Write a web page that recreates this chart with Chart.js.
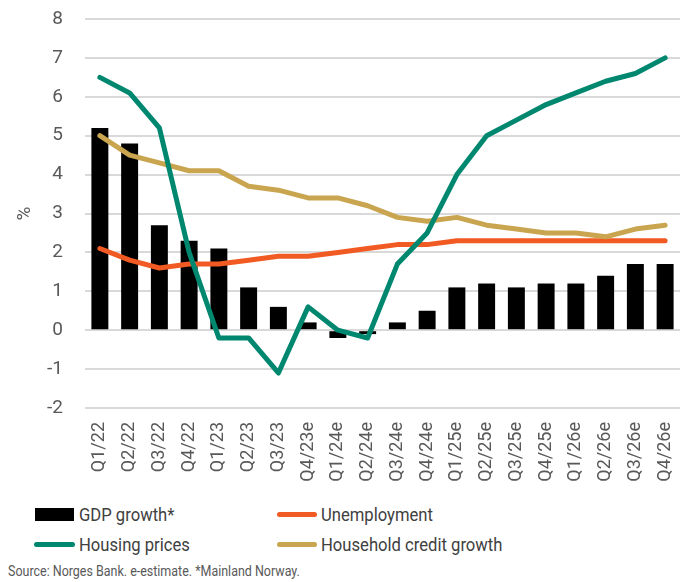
<!doctype html>
<html lang="en">
<head>
    <meta charset="utf-8">
    <style>
        html, body {
            margin: 0;
            padding: 0;
            width: 688px;
            height: 582px;
            background: #fff;
            font-family: "Roboto", sans-serif;
            color: #404040;
        }
        #wrap {
            position: absolute;
            left: 0;
            top: 0;
            width: 688px;
            height: 500px;
        }
        .leg {
            position: absolute;
            font-size: 19px;
            line-height: 20px;
            white-space: nowrap;
            transform: scaleX(0.875);
            transform-origin: left center;
        }
        .sw {
            position: absolute;
        }
        #source {
            position: absolute;
            left: 8px;
            top: 563px;
            font-size: 14.5px;
            color: #595959;
            white-space: nowrap;
            transform: scaleX(0.86);
            transform-origin: left center;
        }
    </style>
    <script src="https://cdn.jsdelivr.net/npm/chart.js@4"></script>
</head>
<body>
    <div id="wrap"><canvas id="myChart" width="688" height="500"></canvas></div>

    <!-- legend, two columns like the original -->
    <div class="sw" style="left:35px;top:508px;width:39px;height:13px;background:#000"></div>
    <div class="leg" style="left:79px;top:505px">GDP growth*</div>
    <div class="sw" style="left:277px;top:512px;width:40px;height:5px;border-radius:3px;background:#F15A22"></div>
    <div class="leg" style="left:321px;top:505px">Unemployment</div>
    <div class="sw" style="left:34px;top:542px;width:41px;height:5px;border-radius:3px;background:#00876F"></div>
    <div class="leg" style="left:79px;top:535px">Housing prices</div>
    <div class="sw" style="left:277px;top:542px;width:40px;height:5px;border-radius:3px;background:#C9A54F"></div>
    <div class="leg" style="left:321px;top:535px">Household credit growth</div>
    <div id="source">Source: Norges Bank. e-estimate. *Mainland Norway.</div>

    <script>
        const quarters = ['Q1/22', 'Q2/22', 'Q3/22', 'Q4/22', 'Q1/23', 'Q2/23', 'Q3/23', 'Q4/23e',
            'Q1/24e', 'Q2/24e', 'Q3/24e', 'Q4/24e', 'Q1/25e', 'Q2/25e', 'Q3/25e', 'Q4/25e',
            'Q1/26e', 'Q2/26e', 'Q3/26e', 'Q4/26e'];
        const gdpGrowth = [5.2, 4.8, 2.7, 2.3, 2.1, 1.1, 0.6, 0.2, -0.2, -0.1, 0.2, 0.5, 1.1, 1.2, 1.1, 1.2, 1.2, 1.4, 1.7, 1.7];
        const unemployment = [2.1, 1.8, 1.6, 1.7, 1.7, 1.8, 1.9, 1.9, 2.0, 2.1, 2.2, 2.2, 2.3, 2.3, 2.3, 2.3, 2.3, 2.3, 2.3, 2.3];
        const housingPrices = [6.5, 6.1, 5.2, 2.0, -0.2, -0.2, -1.1, 0.6, 0.0, -0.2, 1.7, 2.5, 4.0, 5.0, 5.4, 5.8, 6.1, 6.4, 6.6, 7.0];
        const creditGrowth = [5.0, 4.5, 4.3, 4.1, 4.1, 3.7, 3.6, 3.4, 3.4, 3.2, 2.9, 2.8, 2.9, 2.7, 2.6, 2.5, 2.5, 2.4, 2.6, 2.7];
        const yTicks = [-2, -1, 0, 1, 2, 3, 4, 5, 6, 7, 8];

        const fontFam = '"Roboto", sans-serif';

        function lineSet(label, data, color) {
            return {
                type: 'line',
                label: label,
                data: data,
                borderColor: color,
                backgroundColor: color,
                borderWidth: 5,
                pointRadius: 0,
                tension: 0,
                borderCapStyle: 'round',
                borderJoinStyle: 'round',
                order: 1
            };
        }

        var ctx = document.getElementById("myChart");
        var myChart = new Chart(ctx, {
            data: {
                labels: quarters,
                datasets: [
                    lineSet('Housing prices', housingPrices, '#00876F'),
                    lineSet('Household credit growth', creditGrowth, '#C9A54F'),
                    lineSet('Unemployment', unemployment, '#F15A22'),
                    {
                        type: 'bar',
                        label: 'GDP growth*',
                        data: gdpGrowth,
                        backgroundColor: '#000',
                        barPercentage: 0.57,
                        categoryPercentage: 1,
                        order: 2
                    }
                ]
            },
            options: {
                responsive: false,
                animation: false,
                layout: { padding: { left: 0, right: 8, top: 19, bottom: 0 } },
                plugins: {
                    legend: { display: false },
                    tooltip: { enabled: false }
                },
                scales: {
                    x: {
                        grid: { display: false, drawTicks: false },
                        border: { display: false },
                        ticks: {
                            color: '#595959',
                            font: { family: fontFam, size: 18 },
                            minRotation: 90,
                            maxRotation: 90,
                            padding: 14,
                            autoSkip: false
                        },
                        afterFit: (scale) => {
                            scale.paddingLeft = 0;
                            scale.paddingRight = 0;
                            scale.height = 92;
                        }
                    },
                    y: {
                        min: -2,
                        max: 8,
                        afterBuildTicks: (axis) => { axis.ticks = yTicks.map(v => ({ value: v })); },
                        grid: { color: '#D9D9D9', lineWidth: 2, drawTicks: false },
                        border: { display: false },
                        ticks: {
                            color: '#595959',
                            font: { family: fontFam, size: 19 },
                            padding: 22
                        },
                        title: {
                            display: true,
                            text: '%',
                            color: '#595959',
                            font: { family: fontFam, size: 19 },
                            padding: { top: 14, bottom: 0 }
                        },
                        afterFit: (scale) => {
                            scale.paddingTop = 0;
                            scale.paddingBottom = 0;
                            scale.width = 85;
                        }
                    }
                }
            }
        });
    </script>
</body>
</html>
